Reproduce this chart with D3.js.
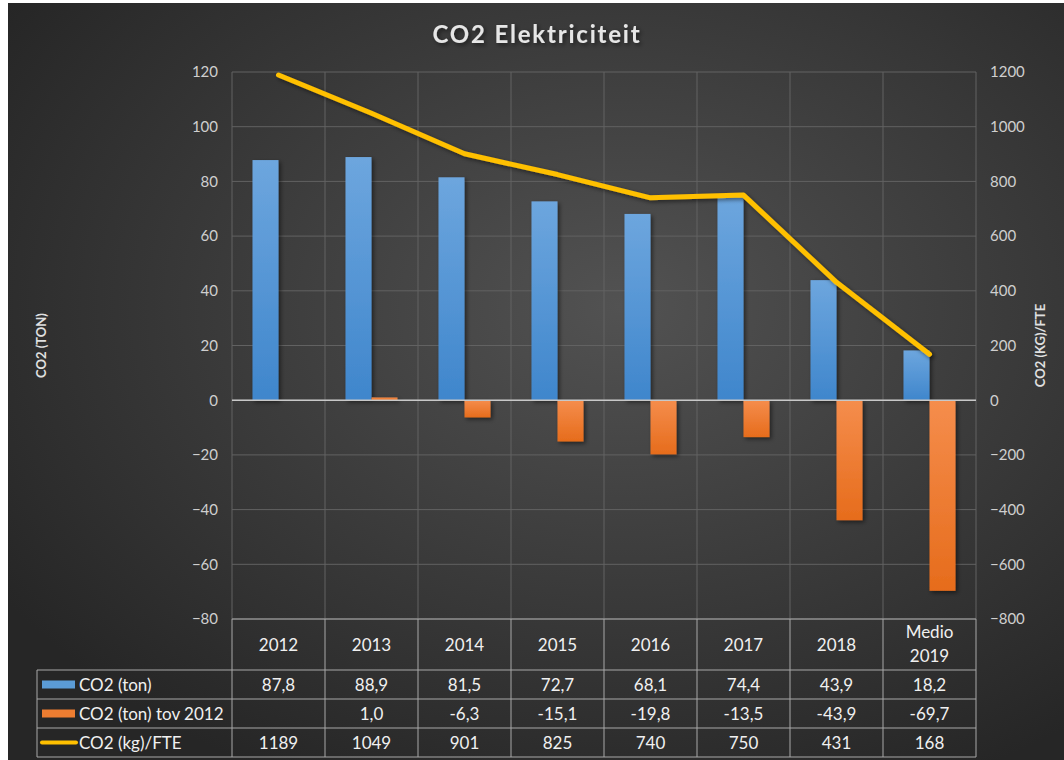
<!DOCTYPE html>
<html>
<head>
<meta charset="utf-8">
<script src="https://cdn.jsdelivr.net/npm/d3@7"></script>
<style>
  html, body { margin: 0; padding: 0; background: #ffffff; }
  svg { display: block; font-family: Lato, "Open Sans", sans-serif; }
</style>
</head>
<body>
<svg id="chart" width="1064" height="760"></svg>
<script>
// chart data
var categories = ["2012", "2013", "2014", "2015", "2016", "2017", "2018", "Medio 2019"];
var co2Ton = [87.8, 88.9, 81.5, 72.7, 68.1, 74.4, 43.9, 18.2];
var co2Tov2012 = [null, 1.0, -6.3, -15.1, -19.8, -13.5, -43.9, -69.7];
var co2PerFte = [1189, 1049, 901, 825, 740, 750, 431, 168];
var leftTicks = [120, 100, 80, 60, 40, 20, 0, -20, -40, -60, -80];
var rightTicks = [1200, 1000, 800, 600, 400, 200, 0, -200, -400, -600, -800];
var seriesNames = ["CO2 (ton)", "CO2 (ton) tov 2012", "CO2 (kg)/FTE"];

var svg = d3.select("#chart");
var W = 1064, H = 760;
var margin = {top: 72, right: 88, bottom: 141, left: 232};

var defs = svg.append("defs");

// background gradient
var bg = defs.append("radialGradient").attr("id", "bg")
    .attr("cx", "58%").attr("cy", "40%").attr("r", "70%");
bg.append("stop").attr("offset", "0%").attr("stop-color", "#525252");
bg.append("stop").attr("offset", "100%").attr("stop-color", "#262626");

var blueG = defs.append("linearGradient").attr("id", "blueG")
    .attr("x1", 0).attr("y1", 0).attr("x2", 0).attr("y2", 1);
blueG.append("stop").attr("offset", "0%").attr("stop-color", "#6da6de");
blueG.append("stop").attr("offset", "100%").attr("stop-color", "#3f86cc");

var orangeG = defs.append("linearGradient").attr("id", "orangeG")
    .attr("x1", 0).attr("y1", 0).attr("x2", 0).attr("y2", 1);
orangeG.append("stop").attr("offset", "0%").attr("stop-color", "#f58d4c");
orangeG.append("stop").attr("offset", "100%").attr("stop-color", "#e66c1c");

var shadow = defs.append("filter").attr("id", "shadow")
    .attr("x", "-20%").attr("y", "-20%").attr("width", "150%").attr("height", "150%");
shadow.append("feDropShadow").attr("dx", 2).attr("dy", 2).attr("stdDeviation", 2)
    .attr("flood-color", "#000").attr("flood-opacity", 0.5);

// white frame + background
svg.append("rect").attr("width", W).attr("height", H).attr("fill", "#ffffff");
svg.append("rect").attr("x", 8).attr("y", 3).attr("width", W - 8).attr("height", H - 3)
    .attr("fill", "url(#bg)");

// title
svg.append("text")
    .attr("x", 537).attr("y", 43)
    .attr("text-anchor", "middle")
    .attr("fill", "#e6e6e6")
    .style("font-size", "24px").style("font-weight", "bold")
    .style("letter-spacing", "1.8px")
    .attr("filter", "url(#shadow)")
    .text("CO2 Elektriciteit");

var plotW = W - margin.left - margin.right;
var plotH = H - margin.top - margin.bottom;

var x = d3.scaleBand().domain(categories).range([margin.left, margin.left + plotW]);
var yL = d3.scaleLinear().domain([-80, 120]).range([margin.top + plotH, margin.top]);
var yR = d3.scaleLinear().domain([-800, 1200]).range([margin.top + plotH, margin.top]);

// horizontal gridlines
svg.append("g").selectAll("line")
    .data(leftTicks)
  .enter().append("line")
    .attr("x1", margin.left).attr("x2", margin.left + plotW)
    .attr("y1", function(d) { return yL(d); })
    .attr("y2", function(d) { return yL(d); })
    .attr("stroke", "#626262").attr("stroke-width", 1);

// vertical category lines
var bounds = categories.map(function(c) { return x(c); }).concat([margin.left + plotW]);
svg.append("g").selectAll("line")
    .data(bounds)
  .enter().append("line")
    .attr("x1", function(d) { return d; }).attr("x2", function(d) { return d; })
    .attr("y1", margin.top).attr("y2", margin.top + plotH)
    .attr("stroke", "#626262").attr("stroke-width", 1);

// left axis
var leftAxis = svg.append("g")
    .attr("transform", "translate(" + (margin.left - 14) + ",0)")
    .call(d3.axisLeft(yL).tickValues(leftTicks).tickSize(0).tickPadding(0).tickFormat(d3.format("d")));
leftAxis.select(".domain").remove();
leftAxis.selectAll("text").attr("fill", "#cfcfcf").style("font-size", "15px")
    .style("font-family", "Lato, 'Open Sans', sans-serif");

// right axis
var rightAxis = svg.append("g")
    .attr("transform", "translate(" + (margin.left + plotW + 14) + ",0)")
    .call(d3.axisRight(yR).tickValues(rightTicks).tickSize(0).tickPadding(0).tickFormat(d3.format("d")));
rightAxis.select(".domain").remove();
rightAxis.selectAll("text").attr("fill", "#cfcfcf").style("font-size", "15px")
    .style("font-family", "Lato, 'Open Sans', sans-serif");

// axis titles
svg.append("text")
    .attr("transform", "translate(46," + (margin.top + plotH / 2) + ") rotate(-90)")
    .attr("text-anchor", "middle").attr("fill", "#e0e0e0")
    .style("font-size", "13px").style("font-weight", "bold")
    .text("CO2 (TON)");
svg.append("text")
    .attr("transform", "translate(1045," + (margin.top + plotH / 2) + ") rotate(-90)")
    .attr("text-anchor", "middle").attr("fill", "#e0e0e0")
    .style("font-size", "13px").style("font-weight", "bold")
    .text("CO2 (KG)/FTE");

// bars
var barW = 26;
var bars = svg.append("g").attr("filter", "url(#shadow)");
bars.selectAll(".blue")
    .data(categories)
  .enter().append("rect")
    .attr("class", "blue")
    .attr("x", function(d) { return x(d) + x.bandwidth() / 2 - barW; })
    .attr("width", barW)
    .attr("y", function(d, i) { return yL(co2Ton[i]); })
    .attr("height", function(d, i) { return yL(0) - yL(co2Ton[i]); })
    .attr("fill", "url(#blueG)");

bars.selectAll(".orange")
    .data(categories.filter(function(d, i) { return co2Tov2012[i] !== null; }))
  .enter().append("rect")
    .attr("class", "orange")
    .attr("x", function(d) { return x(d) + x.bandwidth() / 2; })
    .attr("width", barW)
    .attr("y", function(d) { var v = co2Tov2012[categories.indexOf(d)]; return yL(Math.max(0, v)); })
    .attr("height", function(d) { var v = co2Tov2012[categories.indexOf(d)]; return Math.abs(yL(v) - yL(0)); })
    .attr("fill", "url(#orangeG)");

// zero line
svg.append("line")
    .attr("x1", margin.left).attr("x2", margin.left + plotW)
    .attr("y1", yL(0)).attr("y2", yL(0))
    .attr("stroke", "#c8c8c8").attr("stroke-width", 1.5);

// line series
var line = d3.line()
    .x(function(d, i) { return x(categories[i]) + x.bandwidth() / 2; })
    .y(function(d) { return yR(d); });
svg.append("path")
    .datum(co2PerFte)
    .attr("d", line)
    .attr("fill", "none")
    .attr("stroke", "#ffc000")
    .attr("stroke-width", 5)
    .attr("stroke-linecap", "round")
    .attr("stroke-linejoin", "round")
    .attr("filter", "url(#shadow)");

// data table
var tableLeft = 37;
var tableTop = margin.top + plotH;
var headerH = 51, rowH = 29;
var gridColor = "#a8a8a8";
var table = svg.append("g");

table.append("line")
    .attr("x1", margin.left).attr("x2", margin.left + plotW)
    .attr("y1", tableTop).attr("y2", tableTop)
    .attr("stroke", gridColor);
[0, 1, 2, 3].forEach(function(r) {
  var yy = tableTop + headerH + r * rowH;
  table.append("line")
      .attr("x1", tableLeft).attr("x2", margin.left + plotW)
      .attr("y1", yy).attr("y2", yy)
      .attr("stroke", gridColor);
});
bounds.forEach(function(bx) {
  table.append("line")
      .attr("x1", bx).attr("x2", bx)
      .attr("y1", tableTop).attr("y2", tableTop + headerH + 3 * rowH)
      .attr("stroke", gridColor);
});
table.append("line")
    .attr("x1", tableLeft).attr("x2", tableLeft)
    .attr("y1", tableTop + headerH).attr("y2", tableTop + headerH + 3 * rowH)
    .attr("stroke", gridColor);

// header labels
categories.forEach(function(c) {
  var cx = x(c) + x.bandwidth() / 2;
  var parts = c.split(" ");
  var t = table.append("text")
      .attr("text-anchor", "middle").attr("fill", "#f0f0f0")
      .style("font-size", "17px");
  if (parts.length === 1) {
    t.attr("x", cx).attr("y", tableTop + headerH / 2 + 6).text(c);
  } else {
    t.append("tspan").attr("x", cx).attr("y", tableTop + 19).text(parts[0]);
    t.append("tspan").attr("x", cx).attr("y", tableTop + 43).text(parts[1]);
  }
});

// series rows
var rows = [co2Ton, co2Tov2012, co2PerFte];
var fmt = [function(v) { return v.toFixed(1).replace(".", ","); },
           function(v) { return v.toFixed(1).replace(".", ","); },
           function(v) { return String(v); }];
rows.forEach(function(vals, r) {
  var ry = tableTop + headerH + r * rowH;
  if (r < 2) {
    table.append("rect")
        .attr("x", 42).attr("y", ry + rowH / 2 - 4)
        .attr("width", 33).attr("height", 8)
        .attr("fill", r === 0 ? "#5b9bd5" : "#ed7d31");
  } else {
    table.append("line")
        .attr("x1", 42).attr("x2", 76)
        .attr("y1", ry + rowH / 2).attr("y2", ry + rowH / 2)
        .attr("stroke", "#ffc000").attr("stroke-width", 4)
        .attr("stroke-linecap", "round");
  }
  table.append("text")
      .attr("x", 79).attr("y", ry + rowH / 2 + 6)
      .attr("fill", "#f0f0f0").style("font-size", "17px")
      .text(seriesNames[r]);
  vals.forEach(function(v, i) {
    if (v === null) return;
    table.append("text")
        .attr("x", x(categories[i]) + x.bandwidth() / 2)
        .attr("y", ry + rowH / 2 + 6)
        .attr("text-anchor", "middle").attr("fill", "#f0f0f0")
        .style("font-size", "17px")
        .text(fmt[r](v));
  });
});
</script>
</body>
</html>
